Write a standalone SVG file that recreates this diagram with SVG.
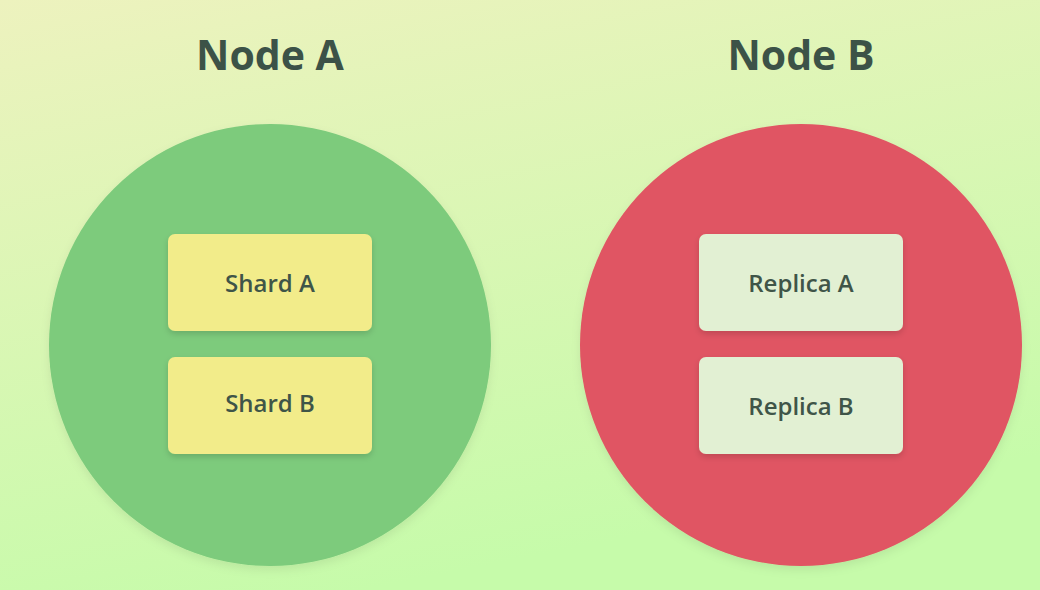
<svg xmlns="http://www.w3.org/2000/svg" width="1040" height="590" viewBox="0 0 1040 590">
<defs>
<linearGradient id="bg" x1="0" y1="0" x2="0.35" y2="1">
<stop offset="0" stop-color="#edf2be"/>
<stop offset="1" stop-color="#c6fbaa"/>
</linearGradient>
<filter id="sh" x="-20%" y="-20%" width="140%" height="150%">
<feDropShadow dx="0" dy="3" stdDeviation="3" flood-color="#000" flood-opacity="0.15"/>
</filter>
<filter id="csh" x="-10%" y="-10%" width="120%" height="125%">
<feDropShadow dx="0" dy="4" stdDeviation="5" flood-color="#000" flood-opacity="0.08"/>
</filter>
</defs>
<style>
.title{font-family:"Open Sans","Noto Sans",sans-serif;font-weight:700;font-size:41px;fill:#3c5247;text-anchor:middle}
.lbl{font-family:"Open Sans","Noto Sans",sans-serif;font-weight:600;font-size:24px;fill:#3f5548;text-anchor:middle}
.shard{fill:#f2ec8a;filter:url(#sh)}
.replica{fill:#e2f0d3;filter:url(#sh)}
</style>
<rect width="1040" height="590" fill="url(#bg)"/>
<g id="nodeA">
<text class="title" x="270" y="70">Node A</text>
<circle cx="270" cy="345" r="221" fill="#7dcb7c" filter="url(#csh)"/>
</g>
<g id="nodeB">
<text class="title" x="801" y="70">Node B</text>
<circle cx="801" cy="345" r="221" fill="#e05563" filter="url(#csh)"/>
</g>
<g id="shardA">
<rect class="shard" x="168" y="234" width="204" height="97" rx="7"/>
<text class="lbl" x="270" y="292">Shard A</text>
</g>
<g id="shardB">
<rect class="shard" x="168" y="357" width="204" height="97" rx="7"/>
<text class="lbl" x="270" y="412">Shard B</text>
</g>
<g id="replicaA">
<rect class="replica" x="699" y="234" width="204" height="97" rx="7"/>
<text class="lbl" x="801" y="292">Replica A</text>
</g>
<g id="replicaB">
<rect class="replica" x="699" y="357" width="204" height="97" rx="7"/>
<text class="lbl" x="801" y="415">Replica B</text>
</g>
<g id="connectors"/>
</svg>
